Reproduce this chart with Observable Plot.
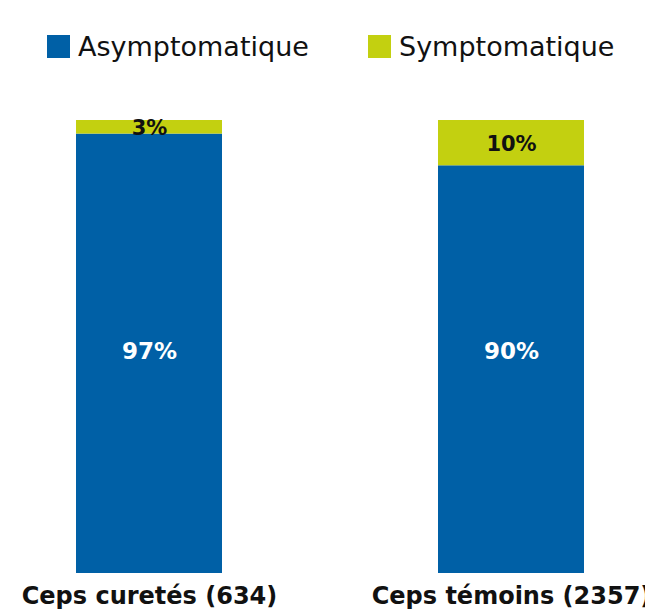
<!DOCTYPE html>
<html><head><meta charset="utf-8">
<script src="https://cdn.jsdelivr.net/npm/d3@7"></script>
<script src="https://cdn.jsdelivr.net/npm/@observablehq/plot@0.6"></script>
<style>
body{margin:0;background:#fff;font-family:"DejaVu Sans",sans-serif;overflow:hidden;width:645px;height:611px}
#legend{height:95px;position:relative}
.item{position:absolute;top:31px;display:flex;align-items:center;font-size:27px;color:#111;white-space:nowrap}
.sw{width:23px;height:23px;margin-right:8px}
svg{overflow:visible}
</style></head><body>
<div id="legend"></div>
<div id="chart"></div>
<script>
const categories = ["Ceps curetés (634)", "Ceps témoins (2357)"];
const statuses = ["Asymptomatique", "Symptomatique"];
const asymptomatique = [97, 90];
const symptomatique = [3, 10];
const colors = ["#0060A6", "#C3D010"];

const data = [];
categories.forEach((c, i) => {
  data.push({cat: c, status: statuses[0], value: asymptomatique[i], total: asymptomatique[i] + symptomatique[i]});
  data.push({cat: c, status: statuses[1], value: symptomatique[i], total: asymptomatique[i] + symptomatique[i]});
});

const legend = document.getElementById("legend");
const lx = [47, 368];
statuses.forEach((s, i) => {
  const d = document.createElement("div");
  d.className = "item";
  d.style.left = lx[i] + "px";
  d.innerHTML = `<span class="sw" style="background:${colors[i]}"></span><span>${s}</span>`;
  legend.appendChild(d);
});

const asymData = data.filter(d => d.status === statuses[0]);
const symData = data.filter(d => d.status === statuses[1]);

const chart = Plot.plot({
  width: 645,
  height: 516,
  marginTop: 25,
  marginBottom: 38,
  marginLeft: 76,
  marginRight: 61,
  x: {domain: categories, paddingInner: 0.597, paddingOuter: 0, label: null},
  y: {domain: [0, 100], axis: null},
  color: {domain: statuses, range: colors},
  style: {fontFamily: "'DejaVu Sans', sans-serif"},
  marks: [
    Plot.barY(data, {x: "cat", y: "value", fill: "status", order: null}),
    Plot.text(asymData, {x: "cat", y: d => d.total / 2, text: d => d.value + "%",
      fill: "white", fontSize: 23, fontWeight: "bold", dy: 5}),
    Plot.text(symData, {x: "cat", y: d => d.total - d.value / 2, text: d => d.value + "%",
      fill: "#111", fontSize: 21, fontWeight: "bold", dy: 1}),
    Plot.axisX({tickSize: 0, fontSize: 24, fontWeight: "bold", fill: "#111", tickPadding: 13, label: null})
  ]
});
document.getElementById("chart").appendChild(chart);
</script>
</body></html>
